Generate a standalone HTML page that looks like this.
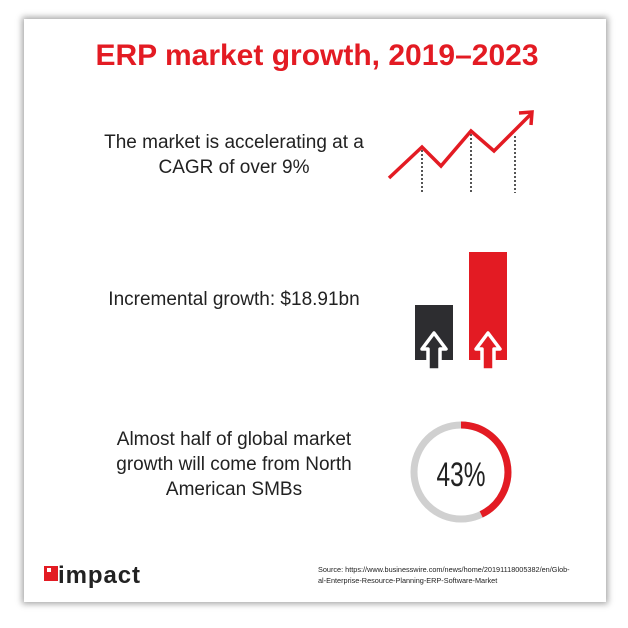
<!DOCTYPE html>
<html><head><style>
body{margin:0;width:628px;height:628px;background:#fff;position:relative;overflow:hidden;font-family:"Liberation Sans",sans-serif}
.card{position:absolute;left:24px;top:19px;width:582px;height:583px;background:#fff;box-shadow:0 0 6px 2px rgba(0,0,0,0.35)}
.t{position:absolute;color:#222;font-size:19px;text-align:center;line-height:25px}
</style></head><body>
<div class="card"></div>
<div style="position:absolute;left:0;width:634px;top:39px;text-align:center;color:#e31b23;font-weight:bold;font-size:30px;letter-spacing:0px">ERP market growth, 2019–2023</div>
<div class="t" style="left:84px;width:300px;top:130px">The market is accelerating at a<br>CAGR of over 9%</div>
<div class="t" style="left:84px;width:300px;top:287px">Incremental growth: $18.91bn</div>
<div class="t" style="left:84px;width:300px;top:427px">Almost half of global market<br>growth will come from North<br>American SMBs</div>
<svg width="628" height="628" style="position:absolute;left:0;top:0">
<g stroke="#555" stroke-width="2" stroke-dasharray="2,2"><line x1="422" y1="150" x2="422" y2="193"/><line x1="471" y1="134" x2="471" y2="193"/><line x1="515" y1="136" x2="515" y2="193"/></g>
<polyline points="389,178 422,147 441,166 471,131 494,151 531,114" fill="none" stroke="#e31b23" stroke-width="3.5"/>
<polyline points="519,113 532,112 531,125" fill="none" stroke="#e31b23" stroke-width="3.5"/>
<rect x="415" y="305" width="38" height="55" fill="#2d2d30"/>
<rect x="469" y="252" width="38" height="108" fill="#e31b23"/>
<polygon points="434,333 446,349 440,349 440,370 428,370 428,349 422,349" fill="#2d2d30" stroke="#fff" stroke-width="3.5" stroke-linejoin="round"/>
<polygon points="488,333 500,349 494,349 494,370 482,370 482,349 476,349" fill="#e31b23" stroke="#fff" stroke-width="3.5" stroke-linejoin="round"/>
<circle cx="461" cy="472" r="47" fill="none" stroke="#d0d0d0" stroke-width="7"/>
<path d="M461 425 A47 47 0 0 1 481.2 514.4" fill="none" stroke="#e31b23" stroke-width="7"/>
<text x="461" y="486" text-anchor="middle" font-family="Liberation Sans Narrow,Liberation Sans,sans-serif" font-size="34" fill="#222" transform="translate(461 0) scale(0.72 1) translate(-461 0)">43%</text>
<rect x="44" y="566" width="14" height="15" fill="#e31b23"/><rect x="47" y="568" width="4" height="4" fill="#fff"/>
<text x="58" y="583" font-family="Liberation Sans,sans-serif" font-weight="bold" font-size="24" fill="#222" textLength="82">impact</text>
<text x="318" y="572" font-family="Liberation Sans Narrow,Liberation Sans,sans-serif" font-size="7.3" fill="#222">Source: https://www.businesswire.com/news/home/20191118005382/en/Glob-</text>
<text x="318" y="583" font-family="Liberation Sans Narrow,Liberation Sans,sans-serif" font-size="7.3" fill="#222">al-Enterprise-Resource-Planning-ERP-Software-Market</text>
</svg>
</body></html>
